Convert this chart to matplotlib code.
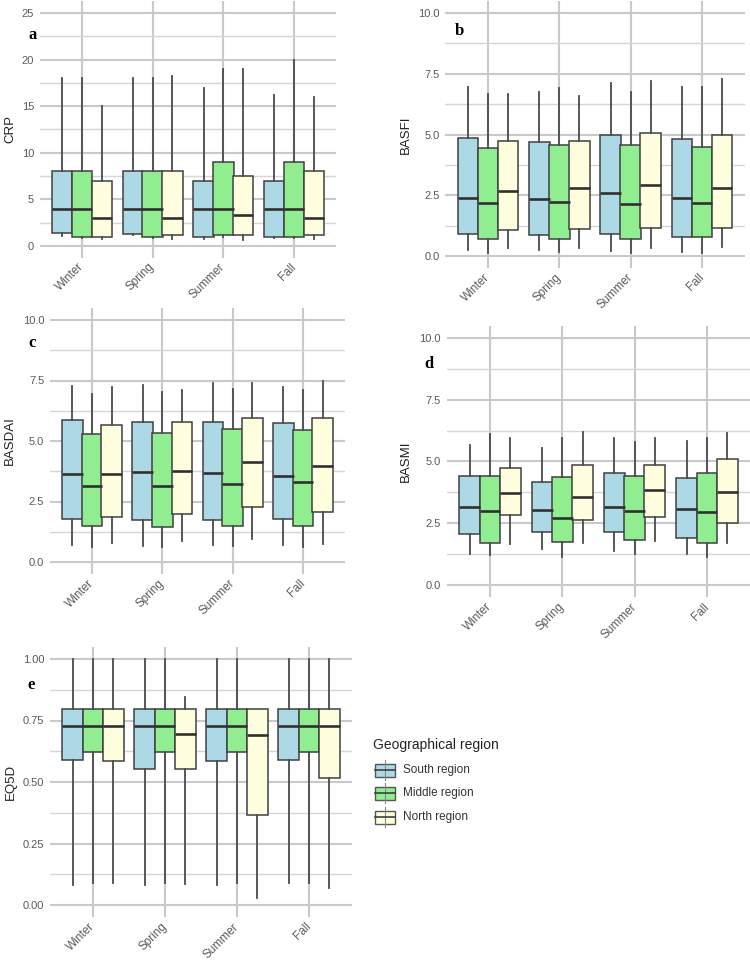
import matplotlib
matplotlib.use("Agg")
import matplotlib.pyplot as plt
import matplotlib.transforms as mtransforms
from matplotlib.patches import Rectangle
from matplotlib.lines import Line2D
from matplotlib.ticker import MultipleLocator, FormatStrFormatter

W, H = 750, 964

seasons = ["Winter", "Spring", "Summer", "Fall"]
regions = ["South region", "Middle region", "North region"]
region_colors = ["#ADD8E6", "#90EE90", "#FFFFE0"]

# each row: [whisker low, Q1, median, Q3, whisker high] for Winter, Spring, Summer, Fall
CRP_SOUTH = [[1.1, 1.4, 4, 8, 18], [1.15, 1.25, 4, 8, 18], [0.7, 1.0, 4, 7, 17], [0.8, 1.0, 4, 7, 16.2]]
CRP_MIDDLE = [[0.9, 1.0, 4, 8, 18], [0.9, 1.0, 4, 8, 18], [1.0, 1.15, 4, 9, 19], [0.9, 1.0, 4, 9, 20]]
CRP_NORTH = [[0.7, 1.0, 3, 7, 15], [0.7, 1.2, 3, 8, 18.2], [0.6, 1.15, 3.3, 7.5, 19], [0.7, 1.15, 3, 8, 16]]

BASFI_SOUTH = [[0.25, 0.89, 2.38, 4.85, 6.94], [0.25, 0.87, 2.34, 4.71, 6.73], [0.22, 0.9, 2.58, 4.96, 7.12], [0.18, 0.8, 2.38, 4.82, 6.94]]
BASFI_MIDDLE = [[0.14, 0.69, 2.2, 4.46, 6.68], [0.18, 0.69, 2.24, 4.56, 6.91], [0.14, 0.69, 2.13, 4.57, 6.77], [0.14, 0.77, 2.2, 4.5, 6.94]]
BASFI_NORTH = [[0.32, 1.07, 2.68, 4.75, 6.68], [0.32, 1.1, 2.79, 4.75, 6.57], [0.32, 1.14, 2.93, 5.08, 7.21], [0.36, 1.14, 2.82, 4.99, 7.29]]

BASDAI_SOUTH = [[0.72, 1.77, 3.65, 5.87, 7.28], [0.67, 1.75, 3.7, 5.78, 7.32], [0.72, 1.75, 3.67, 5.79, 7.41], [0.69, 1.77, 3.56, 5.74, 7.25]]
BASDAI_MIDDLE = [[0.62, 1.47, 3.12, 5.3, 6.93], [0.62, 1.44, 3.12, 5.35, 7.01], [0.65, 1.5, 3.23, 5.49, 7.14], [0.62, 1.5, 3.29, 5.46, 7.11]]
BASDAI_NORTH = [[0.78, 1.88, 3.63, 5.67, 7.22], [0.85, 1.98, 3.78, 5.78, 7.11], [0.95, 2.27, 4.14, 5.93, 7.41], [0.74, 2.05, 3.98, 5.93, 7.5]]

BASMI_SOUTH = [[1.27, 2.06, 3.14, 4.43, 5.67], [1.45, 2.13, 3.04, 4.19, 5.56], [1.37, 2.14, 3.15, 4.52, 5.96], [1.27, 1.9, 3.07, 4.32, 5.83]]
BASMI_MIDDLE = [[1.22, 1.72, 3.0, 4.43, 6.1], [1.13, 1.76, 2.7, 4.36, 5.96], [1.27, 1.83, 3.01, 4.43, 5.77], [1.13, 1.7, 2.95, 4.55, 5.94]]
BASMI_NORTH = [[1.66, 2.84, 3.71, 4.72, 5.94], [1.72, 2.64, 3.55, 4.86, 6.2], [1.8, 2.75, 3.85, 4.86, 5.94], [1.72, 2.53, 3.76, 5.09, 6.14]]

EQ5D_SOUTH = [[0.081, 0.589, 0.728, 0.797, 1.0], [0.081, 0.553, 0.728, 0.797, 1.0], [0.081, 0.585, 0.728, 0.797, 1.0], [0.089, 0.589, 0.728, 0.797, 1.0]]
EQ5D_MIDDLE = [[0.089, 0.622, 0.728, 0.797, 1.0], [0.089, 0.622, 0.728, 0.797, 1.0], [0.089, 0.622, 0.728, 0.797, 1.0], [0.089, 0.622, 0.728, 0.797, 1.0]]
EQ5D_NORTH = [[0.089, 0.585, 0.728, 0.797, 1.0], [0.085, 0.553, 0.695, 0.797, 0.846], [0.028, 0.366, 0.691, 0.797, 0.797], [0.069, 0.516, 0.728, 0.797, 1.0]]

FONT = "Liberation Sans"
plt.rcParams["font.family"] = [FONT, "DejaVu Sans"]

fig = plt.figure(figsize=(W / 100, H / 100), dpi=100)

# (letter, ylabel, series, ymax, major step, tick fmt, pixel rect x0,y0,x1,y1, letter xy, ylabel x)
panels = [
    ("a", "CRP", [CRP_SOUTH, CRP_MIDDLE, CRP_NORTH], 25, 5, "%d", (39.6, 1.35, 336.4, 257.6), (28.3, 39.3), 10),
    ("b", "BASFI", [BASFI_SOUTH, BASFI_MIDDLE, BASFI_NORTH], 10, 2.5, "%.1f", (445.2, 0.85, 744.8, 268.2), (455, 35), 406),
    ("c", "BASDAI", [BASDAI_SOUTH, BASDAI_MIDDLE, BASDAI_NORTH], 10, 2.5, "%.1f", (49.8, 307.9, 345.2, 574.1), (28.3, 347.3), 10),
    ("d", "BASMI", [BASMI_SOUTH, BASMI_MIDDLE, BASMI_NORTH], 10, 2.5, "%.1f", (446.6, 325.65, 750.4, 597.35), (424.3, 367.7), 406),
    ("e", "EQ5D", [EQ5D_SOUTH, EQ5D_MIDDLE, EQ5D_NORTH], 1, 0.25, "%.2f", (49.8, 646.7, 352.2, 917.3), (27.7, 689.3), 11),
]

OFFSET = 0.28
BOXW = 0.29
EDGE = "#404040"

overlay = fig.add_axes([0, 0, 1, 1], zorder=5)
overlay.set_xlim(0, W)
overlay.set_ylim(H, 0)
overlay.axis("off")
overlay.patch.set_alpha(0)

shift = mtransforms.ScaledTranslation(2.5 / 100, 0, fig.dpi_scale_trans)

for letter, ylabel, series, ymax, step, fmt, (x0, y0, x1, y1), (lx, ly), ylx in panels:
    ax = fig.add_axes([x0 / W, 1 - y1 / H, (x1 - x0) / W, (y1 - y0) / H])
    ax.set_axisbelow(True)
    for r, (data, col) in enumerate(zip(series, region_colors)):
        stats = []
        for lo, q1, med, q3, hi in data:
            stats.append(dict(whislo=lo, q1=q1, med=med, q3=q3, whishi=hi, fliers=[]))
        pos = [i + 1 + (r - 1) * OFFSET for i in range(len(seasons))]
        ax.bxp(stats, positions=pos, widths=BOXW, patch_artist=True, showcaps=False,
               showfliers=False, manage_ticks=False,
               boxprops=dict(facecolor=col, edgecolor=EDGE, linewidth=1.1),
               whiskerprops=dict(color="#4a4a4a", linewidth=1.3),
               medianprops=dict(color="#303030", linewidth=1.9, solid_capstyle="butt"))
    ax.set_xlim(0.4, len(seasons) + 0.6)
    ax.set_ylim(-0.05 * ymax, 1.05 * ymax)
    ax.set_xticks(range(1, len(seasons) + 1))
    ax.set_xticklabels(seasons, rotation=45, ha="right", va="center", rotation_mode="anchor",
                       fontsize=8.5, color="#5a5a5a")
    for lab in ax.get_xticklabels():
        lab.set_transform(lab.get_transform() + shift)
    ax.yaxis.set_major_locator(MultipleLocator(step))
    ax.yaxis.set_minor_locator(MultipleLocator(step / 2))
    ax.yaxis.set_major_formatter(FormatStrFormatter(fmt))
    ax.tick_params(axis="y", which="both", length=0, labelsize=8, labelcolor="#5a5a5a", pad=4)
    ax.tick_params(axis="x", length=0, pad=5.5)
    ax.grid(True, which="major", axis="both", color="#c9c9c9", linewidth=1.5)
    ax.grid(True, which="minor", axis="y", color="#d6d6d6", linewidth=1.0)
    for s in ax.spines.values():
        s.set_visible(False)
    ax.patch.set_alpha(0)
    overlay.text(lx, ly, letter, fontsize=12, fontweight="bold", family="Liberation Serif",
                 ha="left", va="baseline", color="black")
    overlay.text(ylx, (y0 + y1) / 2, ylabel, rotation=90, fontsize=9.5, color="#222222",
                 ha="center", va="center")

# legend
overlay.text(373, 745, "Geographical region", fontsize=10, color="#222222", ha="left", va="center")
for yc, name, col in zip([770, 793, 817], regions, region_colors):
    overlay.add_line(Line2D([385, 385], [yc - 10, yc + 10], color="#888888", linewidth=0.8))
    overlay.add_patch(Rectangle((375, yc - 6.5), 20, 13, facecolor=col, edgecolor="#555555", linewidth=1.0))
    overlay.add_line(Line2D([375, 395], [yc, yc], color="#404040", linewidth=1.2))
    overlay.text(403, yc, name, fontsize=8.5, color="#333333", ha="left", va="center")

fig.savefig("out.png", dpi=100)
